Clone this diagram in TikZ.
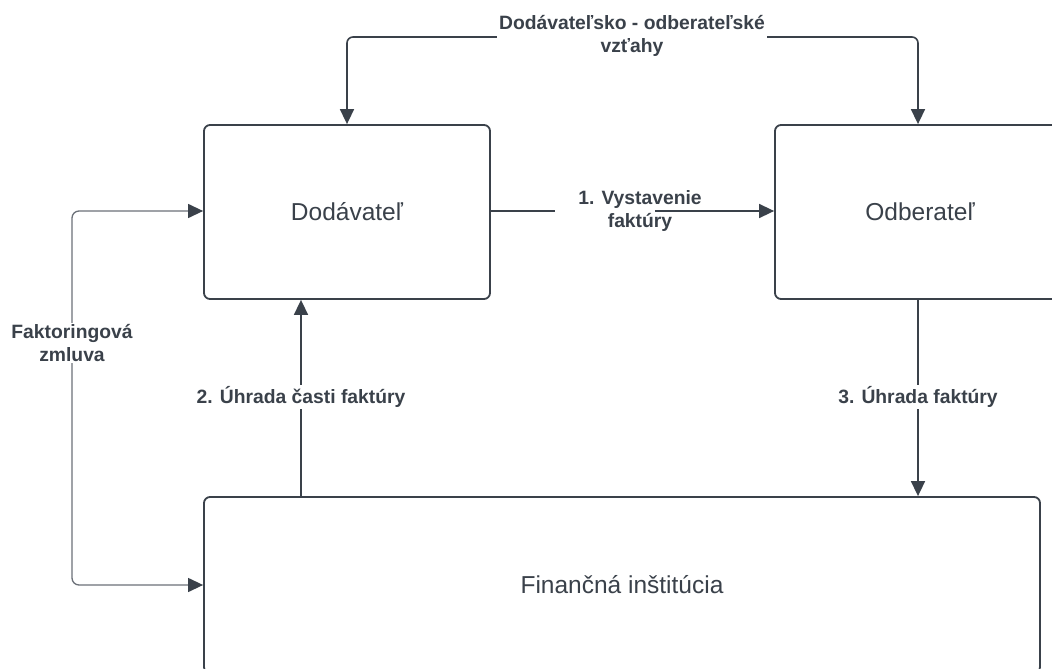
\documentclass[tikz,border=0pt]{standalone}
\usepackage{fontspec}
\setmainfont{Liberation Sans}
\usetikzlibrary{arrows.meta}
\definecolor{ink}{HTML}{3A414A}
\definecolor{thin}{HTML}{6B7078}
\tikzset{
  box/.style={draw=ink, line width=1.8pt, rounded corners=6pt, fill=white,
    text=ink, font=\fontsize{24.5}{29}\selectfont, inner sep=0pt},
  conn/.style={draw=ink, line width=1.6pt, -{Triangle[length=15pt,width=14pt]}},
  plain/.style={draw=ink, line width=1.6pt},
  lbl/.style={text=ink, font=\bfseries\fontsize{19.3}{23}\selectfont, align=center,
    fill=white, inner sep=1pt},
}
\begin{document}
\begin{tikzpicture}[x=1pt, y=-1pt]
  \useasboundingbox (0,0) rectangle (1052,669);
  \begin{scope}
    \clip (0,0) rectangle (1052,669);
    % main boxes
    \node[box, minimum width=286pt, minimum height=174pt] (dod) at (347,212) {Dodávateľ};
    \node[box, minimum width=290pt, minimum height=174pt] (odb) at (920,212) {Odberateľ};
    \node[box, minimum width=836pt, minimum height=176pt] (fin) at (622,585) {Finančná inštitúcia};
  \end{scope}

  % supplier-customer relations
  \node[lbl, inner xsep=2pt] (rel) at (632,36) {Dodávateľsko - odberateľské\\vzťahy};
  \draw[conn, rounded corners=6pt] (rel.west |- 0,37) -| (dod.north);
  \draw[conn, rounded corners=6pt] (rel.east |- 0,37) -| ([xshift=-2pt]odb.north);

  % 1. invoice
  \coordinate (g1) at (555,211);
  \coordinate (g2) at (655,211);
  \node[text=ink, font=\bfseries\fontsize{19.3}{23}\selectfont, align=center, inner sep=0pt]
    (inv) at (640,211) {1. Vystavenie\\faktúry};
  \draw[plain] (dod.east |- g1) -- (g1);
  \draw[conn] (g2) -- (odb.west |- g2);

  % 2. partial payment
  \coordinate (c2) at (301,0);
  \draw[conn] (fin.north -| c2) -- (dod.south -| c2);
  \node[lbl] (pay2) at (301,397) {2. Úhrada časti faktúry};

  % 3. payment
  \coordinate (c3) at (918,0);
  \draw[conn] (odb.south -| c3) -- (fin.north -| c3);
  \node[lbl] (pay3) at (918,397) {3. Úhrada faktúry};

  % factoring contract
  \coordinate (cl) at (72,400);
  \draw[draw=thin, line width=1.3pt, rounded corners=7pt,
        {Triangle[length=15pt,width=14pt,fill=ink,color=ink]}-{Triangle[length=15pt,width=14pt,fill=ink,color=ink]}]
    (dod.west |- 0,211) -| (cl) |- (fin.west);
  \node[lbl] (fact) at (72,343) {Faktoringová\\zmluva};
\end{tikzpicture}
\end{document}
